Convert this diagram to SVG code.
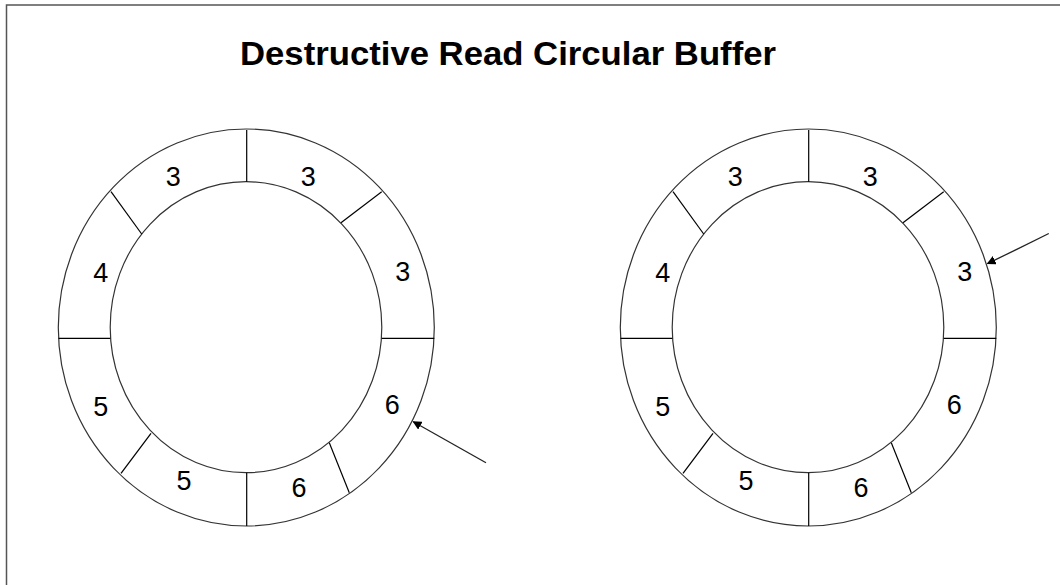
<svg xmlns="http://www.w3.org/2000/svg" width="1060" height="585" viewBox="0 0 1060 585">
<style>
.ring{fill:none;stroke:#333;stroke-width:1.2}
.div{stroke:#000;stroke-width:1.2}
.num{font-family:"Liberation Sans",Arial,sans-serif;font-size:27px;fill:#000;text-anchor:middle;dominant-baseline:central}
.title{font-family:"Liberation Sans",Arial,sans-serif;font-size:34px;font-weight:bold;fill:#000}
.ptr{stroke:#222;stroke-width:1.3;fill:none}
</style>
<defs>
<marker id="ah" viewBox="0 0 10 10" refX="9" refY="5" markerWidth="9" markerHeight="9" markerUnits="userSpaceOnUse" orient="auto">
<path d="M0,0 L10,5 L0,10 z" fill="#000"/>
</marker>
<g id="buffer">
<ellipse class="ring" cx="246.3" cy="327.5" rx="188" ry="198.5"/>
<ellipse class="ring" cx="246" cy="327.2" rx="135.8" ry="145.5"/>
<line class="div" x1="246.7" y1="130" x2="246.7" y2="181.7"/>
<line class="div" x1="111" y1="191.7" x2="141.7" y2="234"/>
<line class="div" x1="381.7" y1="191.7" x2="341" y2="222.7"/>
<line class="div" x1="381.7" y1="338.3" x2="434.3" y2="338.3"/>
<line class="div" x1="58.5" y1="338.3" x2="110.3" y2="338.3"/>
<line class="div" x1="151" y1="433.3" x2="121" y2="473.3"/>
<line class="div" x1="246.7" y1="472.7" x2="246.7" y2="526"/>
<line class="div" x1="329.3" y1="442.7" x2="349.3" y2="492.7"/>
</g>
</defs>
<rect x="6.5" y="5" width="1100" height="700" fill="#fff" stroke="#555" stroke-width="1.5"/>
<text class="title" x="240" y="65" textLength="536" lengthAdjust="spacingAndGlyphs">Destructive Read Circular Buffer</text>
<g id="buffer-left">
<use href="#buffer"/>
<text class="num" x="173.3" y="176.7">3</text>
<text class="num" x="308.3" y="176.7">3</text>
<text class="num" x="402.7" y="271.7">3</text>
<text class="num" x="100.7" y="272.7">4</text>
<text class="num" x="100.7" y="406.7">5</text>
<text class="num" x="392.3" y="405">6</text>
<text class="num" x="184" y="480.7">5</text>
<text class="num" x="299" y="488.3">6</text>
</g>
<g id="buffer-right">
<use href="#buffer" x="562"/>
<text class="num" x="735.3" y="176.7">3</text>
<text class="num" x="870.3" y="176.7">3</text>
<text class="num" x="964.7" y="271.7">3</text>
<text class="num" x="662.7" y="272.7">4</text>
<text class="num" x="662.7" y="406.7">5</text>
<text class="num" x="954.3" y="405">6</text>
<text class="num" x="746" y="480.7">5</text>
<text class="num" x="861" y="488.3">6</text>
</g>
<g id="connectors">
<line class="ptr" x1="486" y1="462.7" x2="413.3" y2="421.7" marker-end="url(#ah)"/>
<line class="ptr" x1="1048.8" y1="233.5" x2="987.5" y2="263.7" marker-end="url(#ah)"/>
</g>
</svg>
